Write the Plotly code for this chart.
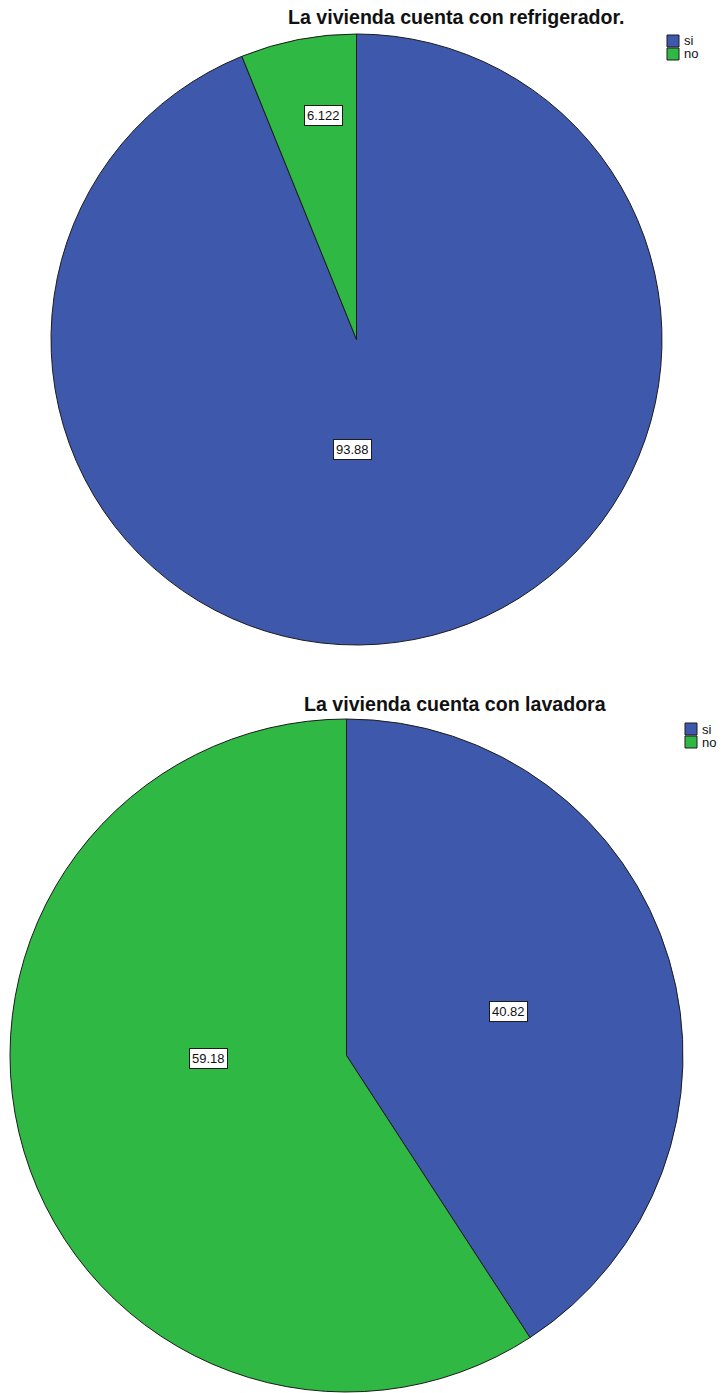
import math
import plotly.graph_objects as go

# Survey results: share of households (%) with each appliance
categories = ["si", "no"]
refrigerador = [93.88, 6.122]
lavadora = [40.82, 59.18]

titles = ["La vivienda cuenta con refrigerador.", "La vivienda cuenta con lavadora"]
label_text = [["93.88", "6.122"], ["40.82", "59.18"]]

COLORS = ["#3E58AC", "#2FB844"]
EDGE = "#1c1c1c"
FONT = "Liberation Sans, Arial, sans-serif"
W, H = 722, 1393

# Pie placement in pixels: (left, top, right, bottom)
PIE_BOX = [(50, 34, 663, 645), (10, 719, 683, 1392)]
# Label anchors as (angle clockwise from 12 o'clock in degrees, fraction of radius)
LABEL_POLAR = [[(182, 0.36), (351.7, 0.74)], [(74.9, 0.5), (268.7, 0.41)]]
TITLE_XY = [(456, 17), (455, 704)]
# Legend swatch top-left corner (pixels), swatch size and row step
LEGEND_XY = [(667, 35), (685, 723)]
SWATCH, ROW = 12, 13


def px_to_paper(x, y):
    return x / W, 1 - y / H


fig = go.Figure()
annotations = []
shapes = []
series = [refrigerador, lavadora]

for i, values in enumerate(series):
    left, top, right, bottom = PIE_BOX[i]
    x0, y1 = px_to_paper(left, top)
    x1, y0 = px_to_paper(right, bottom)
    fig.add_trace(go.Pie(
        labels=categories,
        values=values,
        sort=False,
        direction="clockwise",
        rotation=0,
        marker=dict(colors=COLORS, line=dict(color=EDGE, width=1)),
        textinfo="none",
        hoverinfo="label+value",
        domain=dict(x=[x0, x1], y=[y0, y1]),
        showlegend=False,
    ))

    # Value labels in boxed annotations
    cx, cy = (left + right) / 2, (top + bottom) / 2
    r = min(right - left, bottom - top) / 2
    for j, v in enumerate(values):
        ang, frac = LABEL_POLAR[i][j]
        a = math.radians(ang)
        lx = cx + frac * r * math.sin(a)
        ly = cy - frac * r * math.cos(a)
        px, py = px_to_paper(lx, ly)
        annotations.append(dict(
            x=px, y=py, xref="paper", yref="paper",
            xanchor="center", yanchor="middle",
            text=label_text[i][j], showarrow=False,
            font=dict(family=FONT, size=13, color="#111111"),
            bgcolor="white", bordercolor=EDGE, borderwidth=1, borderpad=2,
        ))

    tx, ty = px_to_paper(*TITLE_XY[i])
    annotations.append(dict(
        x=tx, y=ty, xref="paper", yref="paper",
        text="<b>" + titles[i] + "</b>", showarrow=False,
        font=dict(family=FONT, size=19.6, color="#111111"),
        xanchor="center", yanchor="middle",
    ))

    # Legend: colour swatches with category names
    gx, gy = LEGEND_XY[i]
    for k, name in enumerate(categories):
        sy = gy + k * ROW
        sx0, sy1 = px_to_paper(gx, sy)
        sx1, sy0 = px_to_paper(gx + SWATCH, sy + SWATCH)
        shapes.append(dict(
            type="rect", xref="paper", yref="paper",
            x0=sx0, x1=sx1, y0=sy0, y1=sy1,
            fillcolor=COLORS[k], line=dict(color=EDGE, width=1),
        ))
        ax, ay = px_to_paper(gx + SWATCH + 3, sy + SWATCH / 2)
        annotations.append(dict(
            x=ax, y=ay, xref="paper", yref="paper",
            xanchor="left", yanchor="middle",
            text=name, showarrow=False,
            font=dict(family=FONT, size=13, color="#111111"),
        ))

fig.update_layout(
    width=W, height=H,
    margin=dict(l=0, r=0, t=0, b=0),
    paper_bgcolor="white", plot_bgcolor="white",
    annotations=annotations,
    shapes=shapes,
    showlegend=False,
)

fig.write_html("out.html")
